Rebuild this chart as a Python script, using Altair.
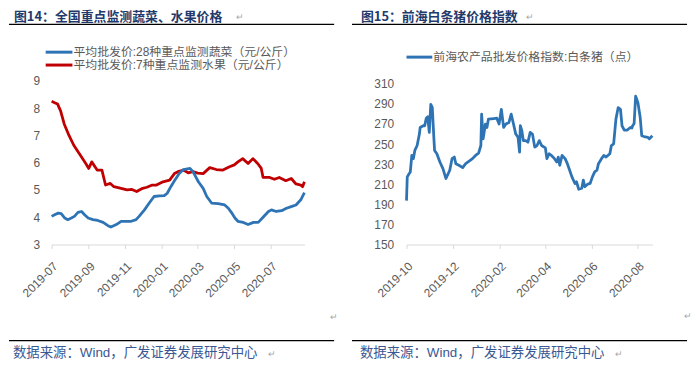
import altair as alt
import pandas as pd

BLUE = "#2E74B5"
RED = "#C00000"
GRAY = "#595959"
AXIS_GRAY = "#D9D9D9"
NAVY = "#1F3A6B"
FOOT = "#3A5894"
LFONT = "Liberation Sans, Noto Sans CJK SC"
CFONT = "Noto Sans CJK SC"

title_left = "图14：全国重点监测蔬菜、水果价格"
title_right = "图15：前海白条猪价格指数"
source_text = "数据来源：Wind，广发证券发展研究中心"
veg_name = "平均批发价:28种重点监测蔬菜（元/公斤）"
fruit_name = "平均批发价:7种重点监测水果（元/公斤）"
pork_name = "前海农产品批发价格指数:白条猪（点）"

veg_dates = ["2019-07-01", "2019-07-06", "2019-07-12", "2019-07-17", "2019-07-23", "2019-07-28",
             "2019-08-03", "2019-08-08", "2019-08-14", "2019-08-20", "2019-08-25", "2019-08-31",
             "2019-09-08", "2019-09-16", "2019-09-25", "2019-10-03", "2019-10-08", "2019-10-17",
             "2019-10-25", "2019-11-02", "2019-11-11", "2019-11-19", "2019-11-24", "2019-12-03",
             "2019-12-11", "2019-12-19", "2019-12-28", "2020-01-05", "2020-01-10", "2020-01-16",
             "2020-01-21", "2020-01-30", "2020-02-06", "2020-02-17", "2020-02-22", "2020-03-02",
             "2020-03-10", "2020-03-16", "2020-03-24", "2020-04-04", "2020-04-15", "2020-04-21",
             "2020-04-26", "2020-05-02", "2020-05-07", "2020-05-16", "2020-05-24", "2020-06-02",
             "2020-06-10", "2020-06-18", "2020-06-27", "2020-07-02", "2020-07-10", "2020-07-19",
             "2020-07-27", "2020-08-04", "2020-08-12", "2020-08-20", "2020-08-26"]
veg_values = [4.03, 4.09, 4.15, 4.13, 3.97, 3.91,
              3.97, 4.03, 4.18, 4.21, 4.09, 3.97,
              3.91, 3.88, 3.81, 3.69, 3.64, 3.73,
              3.85, 3.85, 3.85, 3.91, 4.03, 4.27,
              4.52, 4.76, 4.78, 4.79, 4.88, 5.12,
              5.30, 5.60, 5.75, 5.79, 5.67, 5.30,
              5.06, 4.76, 4.52, 4.50, 4.45, 4.33,
              4.18, 3.97, 3.85, 3.81, 3.73, 3.81,
              3.81, 4.00, 4.21, 4.27, 4.21, 4.24,
              4.33, 4.39, 4.45, 4.64, 4.90]

fruit_dates = ["2019-07-01", "2019-07-06", "2019-07-11", "2019-07-16", "2019-07-22", "2019-07-30",
               "2019-08-07", "2019-08-18", "2019-08-27", "2019-09-01", "2019-09-06", "2019-09-15",
               "2019-09-23", "2019-09-29", "2019-10-07", "2019-10-13", "2019-10-25", "2019-11-04",
               "2019-11-12", "2019-11-20", "2019-11-30", "2019-12-07", "2019-12-16", "2019-12-23",
               "2020-01-03", "2020-01-14", "2020-01-22", "2020-01-28", "2020-02-06", "2020-02-14",
               "2020-02-22", "2020-03-01", "2020-03-10", "2020-03-21", "2020-04-01", "2020-04-12",
               "2020-04-23", "2020-05-01", "2020-05-07", "2020-05-15", "2020-05-24", "2020-06-01",
               "2020-06-09", "2020-06-15", "2020-06-18", "2020-06-29", "2020-07-07", "2020-07-15",
               "2020-07-26", "2020-08-04", "2020-08-12", "2020-08-20", "2020-08-23", "2020-08-26"]
fruit_values = [8.25, 8.20, 8.15, 7.90, 7.42, 7.00,
                6.64, 6.27, 5.97, 5.79, 6.03, 5.73,
                5.73, 5.18, 5.24, 5.12, 5.06, 5.00,
                5.02, 4.94, 5.06, 5.10, 5.18, 5.18,
                5.30, 5.36, 5.60, 5.67, 5.73, 5.63,
                5.67, 5.62, 5.60, 5.82, 5.75, 5.73,
                5.85, 5.92, 6.03, 6.15, 5.97, 6.15,
                5.97, 5.79, 5.46, 5.46, 5.39, 5.46,
                5.34, 5.42, 5.22, 5.18, 5.12, 5.30]

pork_dates = ["2019-10-01", "2019-10-02", "2019-10-04", "2019-10-06", "2019-10-08", "2019-10-10",
              "2019-10-12", "2019-10-15", "2019-10-18", "2019-10-19", "2019-10-23", "2019-10-25",
              "2019-10-27", "2019-10-29", "2019-10-31", "2019-11-02", "2019-11-04", "2019-11-06",
              "2019-11-07", "2019-11-10", "2019-11-14", "2019-11-18", "2019-11-22", "2019-11-27",
              "2019-11-30", "2019-12-03", "2019-12-05", "2019-12-09", "2019-12-14", "2019-12-18",
              "2019-12-23", "2019-12-27", "2019-12-31", "2020-01-04", "2020-01-07", "2020-01-08",
              "2020-01-10", "2020-01-13", "2020-01-15", "2020-01-17", "2020-01-24", "2020-01-28",
              "2020-01-31", "2020-02-03", "2020-02-06", "2020-02-09", "2020-02-13", "2020-02-16",
              "2020-02-19", "2020-02-22", "2020-02-25", "2020-02-27", "2020-02-28", "2020-03-01",
              "2020-03-03", "2020-03-06", "2020-03-09", "2020-03-12", "2020-03-15", "2020-03-18",
              "2020-03-21", "2020-03-24", "2020-03-27", "2020-04-01", "2020-04-03", "2020-04-06",
              "2020-04-09", "2020-04-13", "2020-04-16", "2020-04-18", "2020-04-20", "2020-04-23",
              "2020-04-27", "2020-04-30", "2020-05-03", "2020-05-06", "2020-05-10", "2020-05-12",
              "2020-05-15", "2020-05-19", "2020-05-21", "2020-05-23", "2020-05-27", "2020-05-30",
              "2020-06-02", "2020-06-05", "2020-06-08", "2020-06-10", "2020-06-14", "2020-06-17",
              "2020-06-20", "2020-06-25", "2020-06-27", "2020-06-30", "2020-07-03", "2020-07-06",
              "2020-07-09", "2020-07-11", "2020-07-14", "2020-07-18", "2020-07-22", "2020-07-24",
              "2020-07-25", "2020-07-27", "2020-07-29", "2020-08-01", "2020-08-04", "2020-08-06",
              "2020-08-09", "2020-08-14", "2020-08-16", "2020-08-20"]
pork_values = [193.7, 217.4, 220.0, 222.3, 238.7, 235.5,
               243.7, 248.6, 260.0, 266.6, 268.3, 268.3,
               275.8, 277.2, 261.7, 289.6, 286.4, 256.8,
               243.7, 240.4, 232.2, 225.6, 215.7, 224.0,
               235.5, 237.1, 230.5, 228.9, 226.6, 230.5,
               233.2, 235.5, 238.7, 241.0, 248.6, 279.8,
               255.2, 270.0, 266.6, 274.9, 275.5, 275.8,
               270.0, 284.7, 266.6, 270.0, 271.6, 279.8,
               270.0, 260.0, 256.8, 242.0, 268.3, 263.4,
               253.5, 253.5, 251.9, 261.7, 260.0, 247.0,
               248.6, 253.5, 248.6, 246.3, 235.5, 240.4,
               238.7, 235.5, 232.2, 237.1, 228.9, 238.7,
               235.5, 230.5, 224.0, 217.4, 210.8, 212.5,
               205.0, 206.0, 214.1, 207.5, 210.2, 210.8,
               217.4, 222.3, 224.0, 230.5, 235.5, 238.7,
               237.1, 240.4, 248.6, 250.2, 274.9, 286.4,
               284.7, 268.3, 264.0, 264.0, 266.6, 266.0,
               268.3, 270.6, 297.8, 291.3, 276.5, 258.4,
               257.5, 256.8, 255.2, 258.4]

left_ticks = [(2019, 7), (2019, 9), (2019, 11), (2020, 1), (2020, 3), (2020, 5), (2020, 7)]
right_ticks = [(2019, 10), (2019, 12), (2020, 2), (2020, 4), (2020, 6), (2020, 8)]
left_y_ticks = [3, 4, 5, 6, 7, 8, 9]
right_y_ticks = [150, 170, 190, 210, 230, 250, 270, 290, 310]

veg_df = pd.DataFrame({"date": pd.to_datetime(veg_dates), "value": veg_values})
fruit_df = pd.DataFrame({"date": pd.to_datetime(fruit_dates), "value": fruit_values})
pork_df = pd.DataFrame({"date": pd.to_datetime(pork_dates), "value": pork_values})
one = pd.DataFrame({"k": [0]})


def x_axis(ticks):
    return alt.Axis(values=[alt.DateTime(year=y, month=m, date=1) for y, m in ticks],
                    format="%Y-%m", labelAngle=-45, labelAlign="right", labelBaseline="top",
                    labelFlush=False, labelOverlap=False, grid=False, title=None,
                    domainColor=AXIS_GRAY, domainWidth=1, tickColor=AXIS_GRAY, tickSize=4,
                    labelPadding=12, labelColor=GRAY, labelFont=LFONT, labelFontSize=12)


def y_axis(ticks, pad):
    return alt.Axis(values=ticks, domain=False, ticks=False, tickSize=0, grid=False, title=None,
                    labelPadding=pad, labelColor=GRAY, labelFont=LFONT, labelFontSize=12)


def series(df, color, xs, xa, ys, ya):
    return alt.Chart(df).mark_line(color=color, strokeWidth=2.8, strokeJoin="round").encode(
        x=alt.X("date:T", scale=xs, axis=xa),
        y=alt.Y("value:Q", scale=ys, axis=ya))


def rule(x1, x2, y, color="black", width=1.2, opacity=1.0):
    return alt.Chart(one).mark_rule(color=color, strokeWidth=width, opacity=opacity).encode(
        x=alt.value(x1), x2=alt.value(x2), y=alt.value(y))


def text(x, y, s, size=12, color=GRAY, font=LFONT, weight="normal", baseline="alphabetic"):
    return alt.Chart(one).mark_text(align="left", baseline=baseline, fontSize=size, color=color,
                                    font=font, fontWeight=weight).encode(
        x=alt.value(x), y=alt.value(y), text=alt.value(s))


# ---- left panel ----
lxs = alt.Scale(domain=[alt.DateTime(year=2019, month=7, date=1),
                        alt.DateTime(year=2020, month=8, date=26)], nice=False)
lys = alt.Scale(domain=[3, 9], nice=False, zero=False)
lxa = x_axis(left_ticks)
lya = y_axis(left_y_ticks, 12)

left = alt.layer(
    rule(-43.5, -43, -71.5, opacity=0),
    series(fruit_df, RED, lxs, lxa, lys, lya),
    series(veg_df, BLUE, lxs, lxa, lys, lya),
    rule(-6, 21, -29, color=BLUE, width=3),
    text(22, -29, veg_name, baseline="middle"),
    rule(-6, 21, -16, color=RED, width=3),
    text(22, -16, fruit_name, baseline="middle"),
    text(-38, -60, title_left, size=13, color=NAVY, font=CFONT, weight="bold"),
    text(186, -61, "↵", size=9, color="#A6A6A6"),
    rule(-43, 285, -57),
    rule(-43, 285, 262),
    text(-39, 279, source_text, size=13.5, color=FOOT, font=LFONT),
    text(218, 279, "↵", size=9, color="#A6A6A6"),
    text(281, 241, "↵", size=9, color="#A6A6A6"),
).properties(width=255, height=165)

# ---- right panel ----
rxs = alt.Scale(domain=[alt.DateTime(year=2019, month=10, date=1),
                        alt.DateTime(year=2020, month=8, date=20)], nice=False)
rys = alt.Scale(domain=[150, 310], nice=False, zero=False, range=[165, 3])
rxa = x_axis(right_ticks)
rya = y_axis(right_y_ticks, 13)

right = alt.layer(
    series(pork_df, BLUE, rxs, rxa, rys, rya),
    rule(0, 26, -24, color=BLUE, width=3),
    text(27, -24, pork_name, baseline="middle"),
    text(-46, -60, title_right, size=13, color=NAVY, font=CFONT, weight="bold"),
    text(121, -61, "↵", size=9, color="#A6A6A6"),
    rule(-55, 283, -57),
    rule(-55, 283, 262),
    text(-47, 279, source_text, size=13.5, color=FOOT, font=LFONT),
    text(210, 279, "↵", size=9, color="#A6A6A6"),
    text(280, 240, "↵", size=9, color="#A6A6A6"),
).properties(width=248, height=165)

chart = alt.hconcat(left, right, spacing=103, bounds="flush").properties(
    padding=0
).configure_view(strokeWidth=0)

chart.save("out.html", embed_options={"renderer": "svg", "actions": False})
